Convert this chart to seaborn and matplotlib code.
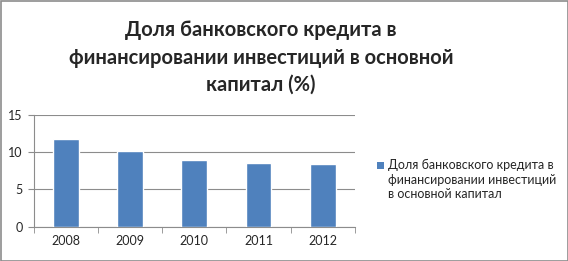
import matplotlib
matplotlib.use("Agg")
import matplotlib.pyplot as plt
import seaborn as sns
import pandas as pd
from matplotlib.patches import Rectangle

years = ["2008", "2009", "2010", "2011", "2012"]
values = [11.8, 10.2, 8.9, 8.5, 8.4]
series_lines = ["Доля банковского кредита в", "финансировании инвестиций", "в основной капитал"]
title_lines = ["Доля банковского кредита в", "финансировании инвестиций в основной", "капитал (%)"]
yticks = [0, 5, 10, 15]

sns.set_style("white")
plt.rcParams['font.family'] = ['Lato', 'DejaVu Sans']

df = pd.DataFrame({"year": years, "value": values})

W, H = 568, 261
fig = plt.figure(figsize=(W/100, H/100), dpi=100)
ax = fig.add_axes([33.5/W, 1-226.7/H, (355-33.5)/W, (226.7-115)/H])

sns.barplot(data=df, x="year", y="value", color="#4F81BD", width=0.4,
            saturation=1, ax=ax, zorder=3)

ax.set_ylim(0, 15)
ax.set_xlim(-0.5, 4.5)
ax.set_yticks(yticks)
ax.set_xlabel("")
ax.set_ylabel("")
ax.yaxis.grid(True, color="#8C8C8C", linewidth=0.8, zorder=0)
ax.set_axisbelow(True)
for s in ["top", "right"]:
    ax.spines[s].set_visible(False)
for s in ["left", "bottom"]:
    ax.spines[s].set_color("#8C8C8C")
    ax.spines[s].set_linewidth(0.8)
ax.tick_params(axis="y", which="major", length=4, color="#8C8C8C", labelsize=9, pad=4, left=True, direction="out")
ax.tick_params(axis="x", which="major", length=0, labelsize=9, pad=6)
ax.set_xticks([-0.5, 0.5, 1.5, 2.5, 3.5, 4.5], minor=True)
ax.tick_params(axis="x", which="minor", length=4, color="#8C8C8C", bottom=True, direction="out")

for line, yb in zip(title_lines, [36, 63.5, 91]):
    fig.text(261/W, 1-yb/H, line, ha="center", va="baseline", fontsize=14.5,
             fontweight="bold")

# legend
fig.patches.append(Rectangle((377/W, 1-168.5/H), 7/W, 7/H, transform=fig.transFigure,
                             facecolor="#4F81BD", edgecolor="none"))
for line, yb in zip(series_lines, [169, 183.5, 198]):
    fig.text(388/W, 1-yb/H, line, ha="left", va="baseline", fontsize=9)

fig.patches.append(Rectangle((0.5/W, 0.5/H), 1-1/W, 1-1/H, transform=fig.transFigure,
                             fill=False, edgecolor="#8C8C8C", linewidth=1.2))

fig.savefig("out.png", dpi=100)
